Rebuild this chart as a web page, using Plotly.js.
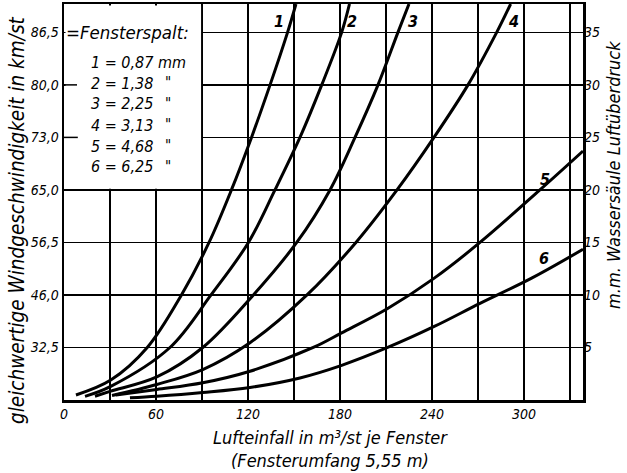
<!DOCTYPE html>
<html>
<head>
<meta charset="utf-8">
<script src="https://cdn.plot.ly/plotly-3.0.1.min.js"></script>
<style>html,body{margin:0;padding:0;background:#fff;}#chart{width:627px;height:473px;}</style>
</head>
<body>
<div id="chart"></div>
<script>
// Air inflow (m³/st per window) and pressure (mm water column) for each window gap
const q1 = [7.8, 30.5, 54.3, 76.6, 94.6, 109.2, 122.3, 134.4, 145.8, 151.3];
const p1 = [0.48, 1.9, 5, 10, 15, 20, 25, 30, 35, 37.7];
const q2 = [13.7, 30.5, 69.1, 95.9, 120.3, 137.6, 153.9, 168.1, 181.1, 186.2];
const p2 = [0.35, 1.3, 5, 10, 15, 20, 25, 30, 35, 37.7];
const q3 = [20.2, 30.5, 60.5, 90.5, 123.5, 151.8, 173.5, 189.8, 204.8, 217.8, 225];
const p3 = [0.36, 0.84, 2.2, 5, 10, 15, 20, 25, 30, 35, 37.7];
const q4 = [31.3, 60.5, 90.5, 121.3, 158.5, 190.4, 217.2, 241.3, 263.5, 282.2, 291.3];
const p4 = [0.43, 1.48, 2.9, 5.45, 10, 15, 20, 25, 30, 35, 37.7];
const q5 = [33.9, 60.5, 90.5, 121.3, 162.6, 181.1, 211.1, 241.5, 271.3, 310.4, 338.5];
const p5 = [0.48, 1.0, 1.64, 2.74, 5, 6.39, 8.71, 11.6, 15, 20, 23.7];
const q6 = [43, 60.5, 90.5, 121.3, 153.9, 181.1, 211.1, 241.5, 271.3, 305, 338.5];
const p6 = [0.21, 0.36, 0.71, 1.19, 2.1, 3.3, 5, 7.0, 9.2, 11.6, 14.35];

const curveNames = ['1', '2', '3', '4', '5', '6'];
const gapWidths = ['0,87', '1,38', '2,25', '3,13', '4,68', '6,25'];
// label anchor points for the curve numbers (data units)
const labelQ = [140.2, 187.7, 227.7, 292.9, 314, 312.8];
const labelP = [36, 36, 36, 36, 21, 13.5];

const xTickVals = [0, 30, 60, 90, 120, 150, 180, 210, 240, 270, 300, 330];
const xTickText = ['0', '', '60', '', '120', '', '180', '', '240', '', '300', ''];
const pTickVals = [5, 10, 15, 20, 25, 30, 35];
const windTickText = ['32,5', '46,0', '56,5', '65,0', '73,0', '80,0', '86,5'];
const pTickText = ['5', '10', '15', '20', '25', '30', '35'];

const FONT = 'DejaVu Sans Condensed, Liberation Sans Narrow, sans-serif';
const qs = [q1, q2, q3, q4, q5, q6];
const ps = [p1, p2, p3, p4, p5, p6];

const traces = qs.map((q, i) => ({
  x: q, y: ps[i], type: 'scatter', mode: 'lines', name: curveNames[i],
  line: {color: '#000', width: 3, shape: 'spline', smoothing: 1},
  hoverinfo: 'skip', showlegend: false
}));
// invisible trace to activate the right axis
traces.push({x: [0], y: [0], yaxis: 'y2', mode: 'markers', marker: {opacity: 0}, showlegend: false, hoverinfo: 'skip'});

const W = 519, H = 396, L = 64, T = 4;
const px = v => (v - L) / W;
const py = v => (T + H - v) / H;
const it = (size) => ({family: FONT, size: size, color: '#000', style: 'italic'});

const ann = [];
curveNames.forEach((n, i) => ann.push({
  x: labelQ[i], y: labelP[i], xref: 'x', yref: 'y', text: n, showarrow: false,
  font: {family: FONT, size: 16, color: '#000', style: 'italic', weight: 'bold'}
}));
ann.push({x: px(64), y: py(33), xref: 'paper', yref: 'paper', xanchor: 'left', yanchor: 'middle',
  text: '=Fensterspalt:', showarrow: false, font: it(18.5)});
const rowY = [62, 83, 104, 125, 146, 166.5];
curveNames.forEach((n, i) => {
  ann.push({x: px(89), y: py(rowY[i]), xref: 'paper', yref: 'paper', xanchor: 'left', yanchor: 'middle',
    text: n + ' = ' + gapWidths[i] + (i === 0 ? ' mm' : ''), showarrow: false, font: it(16)});
  if (i > 0) ann.push({x: px(168), y: py(rowY[i]), xref: 'paper', yref: 'paper', xanchor: 'center', yanchor: 'middle',
    text: '"', showarrow: false, font: it(15)});
});
ann.push({x: px(330), y: py(437), xref: 'paper', yref: 'paper', xanchor: 'center', yanchor: 'middle',
  text: 'Lufteinfall in m³/st je Fenster', showarrow: false, font: it(18)});
ann.push({x: px(330), y: py(460), xref: 'paper', yref: 'paper', xanchor: 'center', yanchor: 'middle',
  text: '(Fensterumfang 5,55 m)', showarrow: false, font: it(18)});
ann.push({x: px(17), y: py(220), xref: 'paper', yref: 'paper', xanchor: 'center', yanchor: 'middle', textangle: -90,
  text: 'gleichwertige Windgeschwindigkeit in km/st', showarrow: false, font: it(20.5)});
ann.push({x: px(614), y: py(175), xref: 'paper', yref: 'paper', xanchor: 'center', yanchor: 'middle', textangle: -90,
  text: 'm.m. Wassersäule Luftüberdruck', showarrow: false, font: it(18)});

const shapes = [
  {type: 'rect', xref: 'x', yref: 'y', x0: 1, x1: 89.4, y0: 20.12, y1: 37.55, fillcolor: '#fff', line: {width: 0}, layer: 'above'},
  {type: 'line', xref: 'x', yref: 'y', x0: 0, x1: 8.5, y0: 30, y1: 30, line: {color: '#000', width: 1.5}, layer: 'above'},
  {type: 'line', xref: 'x', yref: 'y', x0: 0, x1: 9, y0: 25, y1: 25, line: {color: '#000', width: 1.5}, layer: 'above'}
];

const layout = {
  width: 627, height: 473,
  margin: {l: L, r: 627 - L - W, t: T, b: 473 - T - H},
  paper_bgcolor: '#fff', plot_bgcolor: '#fff',
  xaxis: {range: [0, 338.5], tickvals: xTickVals, ticktext: xTickText, showgrid: true, gridcolor: '#000', gridwidth: 1.5,
    zeroline: false, showline: true, mirror: true, linecolor: '#000', linewidth: 2.5, ticks: '', tickfont: it(14)},
  yaxis: {range: [0, 37.7], tickvals: pTickVals, ticktext: windTickText, showgrid: true, gridcolor: '#000', gridwidth: 1.5,
    zeroline: false, showline: true, mirror: true, linecolor: '#000', linewidth: 2.5, ticks: '', tickfont: it(14)},
  yaxis2: {range: [0, 37.7], overlaying: 'y', side: 'right', tickvals: pTickVals, ticktext: pTickText, showgrid: false,
    zeroline: false, showline: false, ticks: '', tickfont: it(14)},
  annotations: ann, shapes: shapes, showlegend: false
};
Plotly.newPlot('chart', traces, layout, {staticPlot: true});
</script>
</body>
</html>
